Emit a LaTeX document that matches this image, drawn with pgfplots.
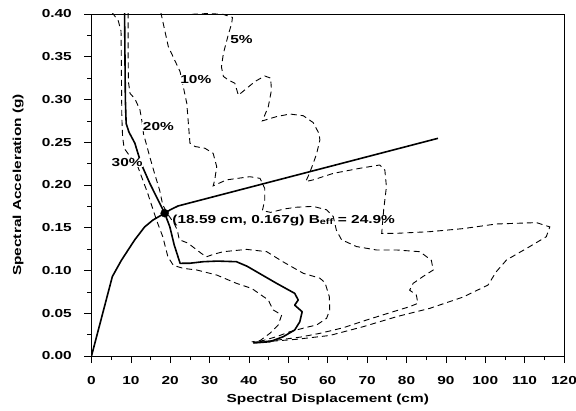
\documentclass[border=0pt]{standalone}
\usepackage{fontspec}
\setmainfont{Liberation Sans}[FakeStretch=1.33]
\usepackage{pgfplots}
\pgfplotsset{compat=1.18}
\newcommand\lf{\fontsize{11.6bp}{13bp}\selectfont\bfseries}
\begin{document}
\begin{tikzpicture}
\useasboundingbox (0,0) rectangle (576bp,411bp);
\begin{axis}[
  at={(91.5bp,55bp)}, anchor=south west,
  scale only axis, width=472.5bp, height=342bp,
  xmin=0, xmax=120, ymin=0, ymax=0.40,
  xtick={0,10,...,120}, minor x tick num=1,
  ytick={0,0.05,0.10,0.15,0.20,0.25,0.30,0.35,0.40}, minor y tick num=1,
  tick align=outside, tick pos=left,
  major tick length=7bp, minor tick length=4bp,
  every tick/.style={black, line width=0.7bp},
  axis line style={line width=0.8bp},
  /pgf/number format/assume math mode=true,
  yticklabel={\pgfmathprintnumber[fixed,fixed zerofill,precision=2]{\tick}},
  every tick label/.append style={font=\lf},
  yticklabel style={anchor=east, inner sep=0pt, xshift=-12.5bp},
  xticklabel style={anchor=base, inner sep=0pt, yshift=-22bp},
  xlabel={Spectral Displacement (cm)},
  ylabel={Spectral Acceleration (g)},
  label style={font=\lf},
  xlabel style={at={(axis description cs:0.5,-0.136)}, anchor=base, inner sep=0pt},
  ylabel style={at={(axis description cs:-0.1492,0.5)}, anchor=base, rotate=0, inner sep=0pt},
  clip=true,
]
% 30% damping demand
\addplot[black, line width=0.9bp, dash pattern=on 6bp off 4bp] coordinates {
(5.2,0.402)(6.8,0.392)(7.5,0.380)(7.6,0.33)(7.7,0.28)(7.9,0.256)(8.3,0.243)
(10.0,0.232)(11.8,0.221)(14.3,0.190)(16.5,0.159)(18.1,0.1395)(19.4,0.116)(20.8,0.106)
(23.3,0.1025)(26.7,0.1006)(31.8,0.0947)(36.8,0.085)(40.7,0.079)(44.9,0.0655)
(46.1,0.054)(48.3,0.048)(47.4,0.036)(45.3,0.0265)(42.8,0.018)(40.7,0.0165)};
% 20% damping demand
\addplot[black, line width=0.9bp, dash pattern=on 6bp off 4bp] coordinates {
(9.3,0.402)(9.3,0.35)(9.4,0.32)(9.8,0.307)(11.0,0.301)(12.3,0.288)(12.9,0.272)
(13.2,0.260)(14.8,0.233)(16.0,0.2137)(17.3,0.194)(18.1,0.1766)(19.5,0.165)(21.0,0.155)
(21.8,0.147)(22.3,0.136)(24.5,0.132)(27.9,0.120)(29.2,0.116)(31.0,0.119)(33.5,0.122)
(39.4,0.1247)(44.5,0.122)(48.7,0.110)(53.8,0.0967)(58.0,0.091)(59.3,0.0858)
(60.4,0.0694)(60.5,0.0538)(59.7,0.044)(57.2,0.0363)(54.6,0.0335)(50.4,0.0284)
(47.0,0.0226)(43.5,0.018)(41.1,0.016)};
% 10% damping demand
\addplot[black, line width=0.9bp, dash pattern=on 6bp off 4bp] coordinates {
(17.6,0.402)(19.5,0.362)(22.5,0.3325)(24.2,0.2955)(25.0,0.249)(26.3,0.245)(28.8,0.243)
(30.9,0.237)(31.8,0.2215)(31.3,0.206)(30.9,0.199)(34.3,0.206)(40.2,0.2097)(42.8,0.2078)
(44.0,0.196)(44.0,0.1825)(43.4,0.170)(45.5,0.168)(49.0,0.172)(52.0,0.174)(56.3,0.175)
(59.7,0.171)(61.4,0.163)(62.2,0.147)(63.5,0.136)(67.3,0.128)(72.4,0.124)(77.5,0.124)
(83.4,0.122)(86.3,0.112)(86.8,0.1006)(84.2,0.093)(81.7,0.085)(80.8,0.077)(82.5,0.0713)
(82.9,0.0616)(80.8,0.0577)(76.6,0.0518)(69.8,0.042)(63.9,0.033)(58.0,0.0265)
(52.9,0.022)(47.0,0.0185)(41.1,0.016)};
% 5% damping demand
\addplot[black, line width=0.9bp, dash pattern=on 6bp off 4bp] coordinates {
(25.5,0.4015)(30.0,0.4005)(33.5,0.3995)(35.8,0.396)(35.6,0.389)(34.7,0.375)(33.5,0.354)
(33.0,0.338)(33.5,0.327)(34.7,0.323)(36.4,0.319)(37.3,0.305)(39.4,0.313)(41.5,0.321)
(44.0,0.3275)(45.5,0.325)(45.7,0.311)(44.9,0.2916)(43.4,0.275)(47.0,0.280)(50.4,0.283)
(53.8,0.281)(56.3,0.273)(57.8,0.26)(58.0,0.2526)(57.2,0.237)(56.3,0.225)(55.2,0.212)
(54.4,0.204)(56.3,0.206)(61.4,0.2136)(68.1,0.2195)(73.2,0.2234)(74.5,0.2175)(74.9,0.198)
(74.2,0.1708)(73.7,0.1435)(77.5,0.1435)(85.9,0.1454)(94.4,0.149)(102.8,0.1544)
(113.0,0.156)(116.4,0.151)(115.5,0.1395)(111.3,0.128)(105.4,0.1123)(102.8,0.0986)
(100.7,0.083)(94.4,0.069)(85.9,0.0557)(77.5,0.046)(69.0,0.0343)(60.5,0.0240)
(52.0,0.0195)(45.0,0.017)(41.1,0.016)};
% effective damping 24.9% demand (solid)
\addplot[black, line width=1.6bp, line join=round] coordinates {
(8.4,0.402)(8.5,0.35)(8.6,0.30)(8.8,0.272)(9.5,0.262)(11.0,0.249)(12.6,0.225)
(14.8,0.202)(16.9,0.1825)(18.59,0.167)(19.9,0.151)(21.0,0.13)(22.5,0.1084)(25.0,0.1085)
(28.4,0.1103)(32.0,0.111)(36.8,0.1103)(39.5,0.105)(41.9,0.0986)(47.0,0.085)(51.6,0.0733)
(52.5,0.0655)(51.6,0.0595)(53.5,0.0518)(52.9,0.0400)(51.6,0.0304)(48.7,0.0226)
(45.3,0.0167)(41.1,0.0152)};
% capacity curve
\addplot[black, line width=1.6bp, line join=round] coordinates {
(0,0)(5.3,0.093)(7.6,0.112)(11.0,0.136)(13.5,0.151)(15.6,0.159)(18.59,0.167)
(20.0,0.171)(22.0,0.1755)(88.0,0.2546)};
% performance point
\addplot[only marks, mark=*, mark size=4bp, black] coordinates {(18.59,0.167)};
\node[anchor=west, font=\lf, inner sep=0pt] at (axis cs:20.5,0.159)
  {(18.59 cm, 0.167g) B\textsubscript{eff} = 24.9\%};
\node[font=\lf, inner sep=0.5bp, fill=white] at (axis cs:38.1,0.3705) {5\%};
\node[font=\lf, inner sep=0.5bp, fill=white] at (axis cs:26.5,0.3237) {10\%};
\node[font=\lf, inner sep=0.5bp, fill=white] at (axis cs:17.0,0.268) {20\%};
\node[font=\lf, inner sep=0.5bp, fill=white] at (axis cs:9.05,0.2263) {30\%};
\end{axis}
\end{tikzpicture}
\end{document}
